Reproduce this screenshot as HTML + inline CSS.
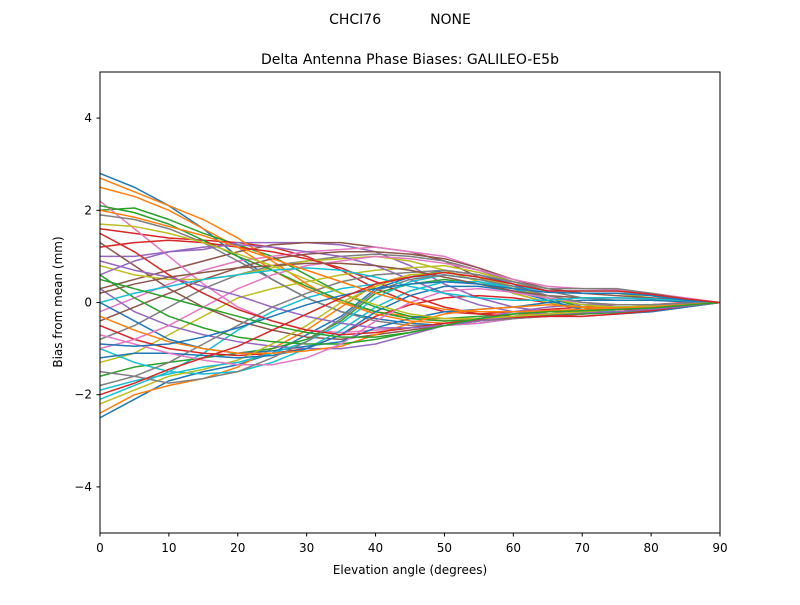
<!DOCTYPE html>
<html><head><meta charset="utf-8"><style>
body{margin:0;background:#fff;}
svg text{font-family:"DejaVu Sans","Liberation Sans",sans-serif;fill:#000;}
</style></head><body>
<svg id="chart" width="800" height="600" xmlns="http://www.w3.org/2000/svg">
<rect width="800" height="600" fill="#fff"/>
<text x="400" y="24" font-size="14" text-anchor="middle" xml:space="preserve">CHCI76           NONE</text>
<text x="410" y="64" font-size="14" text-anchor="middle">Delta Antenna Phase Biases: GALILEO-E5b</text>
<g id="lines"></g>
<rect x="100" y="72" width="620" height="461" fill="none" stroke="#000" stroke-width="1"/>
<g id="axes"></g>
<text x="410" y="574" font-size="12" text-anchor="middle">Elevation angle (degrees)</text>
<text x="62" y="302" font-size="12" text-anchor="middle" transform="rotate(-90 62 302)">Bias from mean (mm)</text>
</svg>
<script>
const elevations=[0,5,10,15,20,25,30,35,40,45,50,55,60,65,70,75,80,85,90];
const xTicks=[0,10,20,30,40,50,60,70,80,90];
const yTicks=[-4,-2,0,2,4];
const s1=[2.8,2.5,2.1,1.6,1.0,0.5,0.1,-0.2,-0.35,-0.45,-0.5,-0.45,-0.35,-0.25,-0.2,-0.15,-0.1,-0.05,0];
const s2=[2.5,2.3,2.0,1.6,1.2,0.7,0.3,0,-0.2,-0.3,-0.4,-0.35,-0.3,-0.2,-0.15,-0.1,-0.08,-0.04,0];
const s3=[2.0,2.05,1.8,1.5,1.25,1.0,0.6,0.2,-0.1,-0.3,-0.35,-0.3,-0.25,-0.2,-0.15,-0.1,-0.1,-0.05,0];
const s4=[1.6,1.5,1.4,1.35,1.3,1.2,1.0,0.7,0.3,0,-0.2,-0.25,-0.2,-0.15,-0.1,-0.05,-0.05,0,0];
const s5=[1.0,1.0,1.1,1.15,1.3,1.3,1.3,1.25,1.1,0.8,0.4,0.1,-0.1,-0.2,-0.2,-0.15,-0.1,-0.05,0];
const s6=[0.3,0.5,0.7,0.9,1.1,1.25,1.3,1.3,1.2,1.1,0.9,0.55,0.2,0,-0.15,-0.15,-0.1,-0.05,0];
const s7=[-0.2,0.1,0.4,0.7,0.9,1.0,1.1,1.15,1.2,1.1,1.0,0.75,0.4,0.15,0,-0.05,-0.05,-0.02,0];
const s8=[-0.8,-0.5,-0.1,0.3,0.6,0.8,0.9,1.0,1.05,1.0,0.9,0.7,0.45,0.25,0.1,0.05,0.05,0.02,0];
const s9=[-1.3,-1.1,-0.7,-0.3,0.1,0.3,0.45,0.6,0.7,0.75,0.8,0.65,0.45,0.3,0.2,0.2,0.1,0.05,0];
const s10=[-2.1,-1.8,-1.5,-1.1,-0.6,-0.2,0.1,0.3,0.4,0.55,0.6,0.5,0.35,0.25,0.25,0.25,0.15,0.05,0];
const s11=[-2.5,-2.1,-1.7,-1.5,-1.35,-1.1,-0.7,-0.3,0.3,0.55,0.7,0.6,0.4,0.1,-0.1,-0.15,-0.1,-0.05,0];
const s12=[-2.4,-2.0,-1.8,-1.65,-1.4,-1.0,-0.6,-0.1,0.4,0.6,0.65,0.55,0.3,0.05,-0.15,-0.2,-0.15,-0.05,0];
const s13=[-1.6,-1.4,-1.3,-1.2,-1.1,-1.0,-0.8,-0.4,0.2,0.4,0.5,0.4,0.25,0.1,-0.1,-0.2,-0.2,-0.1,0];
const s14=[-0.5,-0.8,-1.0,-1.1,-1.15,-1.1,-1.0,-0.7,-0.3,-0.05,0.1,0.15,0.1,0,-0.1,-0.15,-0.15,-0.08,0];
const s15=[0.3,-0.2,-0.5,-0.7,-0.85,-0.95,-1.0,-1.0,-0.9,-0.7,-0.5,-0.35,-0.2,-0.1,-0.05,-0.05,-0.05,-0.02,0];
const s16=[1.3,0.8,0.3,-0.1,-0.4,-0.6,-0.75,-0.8,-0.7,-0.6,-0.5,-0.4,-0.3,-0.2,-0.2,-0.2,-0.15,-0.08,0];
const s17=[2.2,1.6,1.0,0.4,-0.1,-0.4,-0.6,-0.65,-0.6,-0.55,-0.5,-0.45,-0.35,-0.3,-0.3,-0.25,-0.2,-0.1,0];
const s18=[1.9,1.8,1.6,1.3,0.9,0.5,0.1,-0.2,-0.4,-0.5,-0.5,-0.4,-0.35,-0.3,-0.25,-0.2,-0.15,-0.08,0];
const s19=[0.8,0.6,0.5,0.5,0.6,0.75,0.9,0.95,1.0,0.9,0.7,0.45,0.2,0.0,-0.1,-0.1,-0.08,-0.04,0];
const s20=[-1.0,-1.3,-1.5,-1.55,-1.5,-1.3,-1.0,-0.6,-0.1,0.25,0.45,0.45,0.3,0.1,-0.05,-0.1,-0.1,-0.05,0];
const s21=[0.0,-0.4,-0.8,-1.0,-1.1,-1.05,-0.95,-0.85,-0.55,-0.35,-0.2,-0.15,-0.1,0,0.05,0.05,0.05,0.02,0];
const s22=[2.7,2.4,2.1,1.8,1.4,0.9,0.4,0.0,-0.25,-0.4,-0.45,-0.4,-0.3,-0.2,-0.18,-0.15,-0.1,-0.05,0];
const s23=[2.1,1.95,1.7,1.35,1.0,0.7,0.35,0.05,-0.2,-0.35,-0.4,-0.38,-0.32,-0.28,-0.25,-0.2,-0.15,-0.08,0];
const s24=[1.2,1.3,1.35,1.3,1.2,1.1,0.95,0.75,0.45,0.15,-0.1,-0.25,-0.3,-0.3,-0.25,-0.2,-0.15,-0.08,0];
const s25=[0.6,0.9,1.1,1.2,1.25,1.2,1.1,1.0,0.8,0.5,0.2,-0.05,-0.2,-0.25,-0.25,-0.2,-0.15,-0.08,0];
const s26=[-0.4,-0.1,0.2,0.5,0.75,0.95,1.05,1.1,1.1,1.05,0.95,0.75,0.5,0.3,0.2,0.15,0.1,0.05,0];
const s27=[-1.0,-0.8,-0.5,-0.1,0.3,0.6,0.8,0.9,1.0,0.95,0.85,0.7,0.5,0.35,0.3,0.28,0.2,0.1,0];
const s28=[-1.8,-1.6,-1.3,-0.9,-0.5,-0.1,0.2,0.45,0.6,0.65,0.7,0.6,0.45,0.3,0.3,0.3,0.2,0.08,0];
const s29=[-2.2,-1.9,-1.6,-1.45,-1.25,-0.9,-0.5,0.0,0.35,0.6,0.65,0.55,0.35,0.1,-0.05,-0.1,-0.08,-0.04,0];
const s30=[-1.9,-1.7,-1.55,-1.4,-1.3,-1.1,-0.85,-0.45,0.1,0.45,0.6,0.5,0.3,0.05,-0.15,-0.2,-0.15,-0.08,0];
const s31=[-1.2,-1.1,-1.1,-1.15,-1.2,-1.15,-1.0,-0.7,-0.2,0.15,0.35,0.35,0.25,0.05,-0.15,-0.25,-0.2,-0.1,0];
const s32=[-0.3,-0.6,-0.85,-1.0,-1.1,-1.1,-1.05,-0.95,-0.7,-0.45,-0.25,-0.15,-0.1,-0.05,-0.1,-0.12,-0.1,-0.05,0];
const s33=[0.6,0.1,-0.3,-0.55,-0.75,-0.85,-0.9,-0.9,-0.8,-0.65,-0.5,-0.4,-0.3,-0.25,-0.25,-0.22,-0.15,-0.08,0];
const s34=[1.5,1.1,0.6,0.2,-0.15,-0.4,-0.6,-0.7,-0.65,-0.55,-0.45,-0.38,-0.32,-0.3,-0.3,-0.25,-0.18,-0.08,0];
const s35=[0.9,0.7,0.55,0.35,0.15,-0.1,-0.3,-0.45,-0.55,-0.55,-0.5,-0.4,-0.3,-0.25,-0.22,-0.2,-0.15,-0.08,0];
const s36=[0.2,0.4,0.55,0.65,0.75,0.8,0.85,0.85,0.8,0.7,0.55,0.4,0.25,0.15,0.1,0.1,0.08,0.04,0];
const s37=[-0.7,-0.9,-1.1,-1.25,-1.35,-1.35,-1.2,-0.9,-0.4,0.0,0.25,0.3,0.22,0.1,0.0,-0.05,-0.05,-0.02,0];
const s38=[-1.5,-1.6,-1.75,-1.65,-1.5,-1.2,-0.85,-0.35,0.25,0.5,0.6,0.5,0.35,0.15,0.0,-0.05,-0.05,-0.02,0];
const s39=[1.7,1.65,1.5,1.3,1.05,0.8,0.5,0.2,-0.05,-0.25,-0.35,-0.35,-0.3,-0.25,-0.2,-0.15,-0.1,-0.05,0];
const s40=[0.0,0.2,0.35,0.5,0.6,0.7,0.75,0.7,0.55,0.35,0.2,0.1,0.05,0.05,0.1,0.1,0.08,0.04,0];
const s41=[-0.9,-0.95,-0.9,-0.75,-0.55,-0.3,-0.05,0.15,0.3,0.4,0.45,0.4,0.3,0.22,0.2,0.2,0.15,0.05,0];
const s42=[2.0,1.85,1.65,1.45,1.2,0.95,0.7,0.45,0.2,0.0,-0.15,-0.2,-0.2,-0.18,-0.15,-0.12,-0.1,-0.05,0];
const s43=[0.5,0.3,0.1,-0.1,-0.3,-0.5,-0.65,-0.75,-0.75,-0.65,-0.5,-0.35,-0.25,-0.2,-0.18,-0.15,-0.12,-0.06,0];
const s44=[-2.0,-1.75,-1.45,-1.2,-0.95,-0.6,-0.25,0.1,0.4,0.55,0.65,0.55,0.4,0.25,0.25,0.25,0.18,0.08,0];
const series=[s1,s2,s3,s4,s5,s6,s7,s8,s9,s10,s11,s12,s13,s14,s15,s16,s17,s18,s19,s20,s21,s22,s23,s24,s25,s26,s27,s28,s29,s30,s31,s32,s33,s34,s35,s36,s37,s38,s39,s40,s41,s42,s43,s44];
const colors=["#1f77b4","#ff7f0e","#2ca02c","#d62728","#9467bd","#8c564b","#e377c2","#7f7f7f","#bcbd22","#17becf"];
const NS="http://www.w3.org/2000/svg";
function xs(v){return 100+v/90*620;}
function ys(v){return 302.5-v*46.1;}
const lg=document.getElementById('lines');
series.forEach((s,i)=>{
  const p=document.createElementNS(NS,'polyline');
  p.setAttribute('points',s.map((v,j)=>xs(elevations[j])+','+ys(v)).join(' '));
  p.setAttribute('fill','none');
  p.setAttribute('stroke',colors[i%10]);
  p.setAttribute('stroke-width','1.5');
  p.setAttribute('stroke-linejoin','round');
  
  
  lg.appendChild(p);
});
const ax=document.getElementById('axes');
xTicks.forEach(t=>{
  const l=document.createElementNS(NS,'line');
  l.setAttribute('x1',xs(t));l.setAttribute('x2',xs(t));l.setAttribute('y1',533);l.setAttribute('y2',536.5);l.setAttribute('stroke','#000');
  
  
  ax.appendChild(l);
  const tx=document.createElementNS(NS,'text');
  tx.setAttribute('x',xs(t));tx.setAttribute('y',552);tx.setAttribute('font-size','12');tx.setAttribute('text-anchor','middle');
  tx.textContent=t;
  
  
  ax.appendChild(tx);
});
yTicks.forEach(t=>{
  const l=document.createElementNS(NS,'line');
  l.setAttribute('x1',96.5);l.setAttribute('x2',100);l.setAttribute('y1',ys(t));l.setAttribute('y2',ys(t));l.setAttribute('stroke','#000');
  
  
  ax.appendChild(l);
  const tx=document.createElementNS(NS,'text');
  tx.setAttribute('x',92);tx.setAttribute('y',ys(t)+4);tx.setAttribute('font-size','12');tx.setAttribute('text-anchor','end');
  tx.textContent=t<0?'\u2212'+Math.abs(t):String(t);
  
  
  ax.appendChild(tx);
});
</script>
</body></html>
